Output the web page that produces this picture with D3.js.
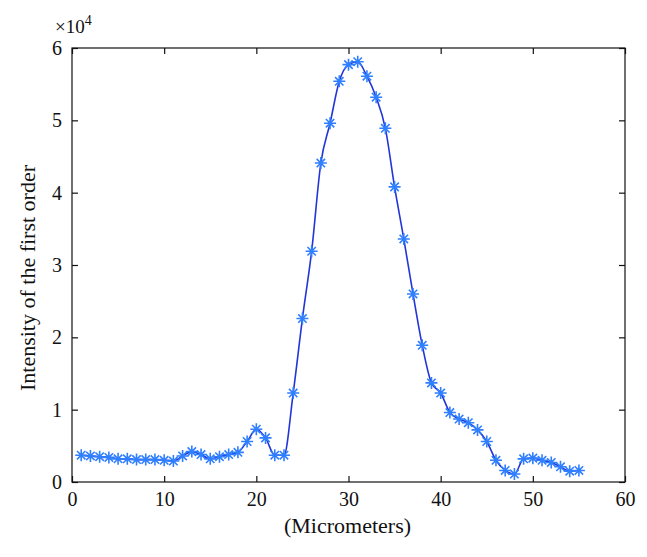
<!DOCTYPE html>
<html>
<head>
<meta charset="utf-8">
<script src="https://cdn.jsdelivr.net/npm/d3@7"></script>
<style>
  body { margin: 0; background: #fff; }
  svg text { font-family: "Liberation Serif", "DejaVu Serif", serif; fill: #111; }
</style>
</head>
<body>
<svg width="647" height="557"></svg>
<script>
// positions in micrometers
const positions = d3.range(1, 56);
// intensity of the first order (x10^4)
const intensity = [
  0.37, 0.36, 0.35, 0.34, 0.32, 0.32, 0.31, 0.31, 0.31, 0.30,
  0.29, 0.36, 0.42, 0.38, 0.32, 0.35, 0.38, 0.41, 0.56, 0.73,
  0.61, 0.37, 0.37, 1.23, 2.26, 3.19, 4.41, 4.96, 5.54, 5.77,
  5.81, 5.61, 5.32, 4.89, 4.08, 3.36, 2.60, 1.89, 1.37, 1.23,
  0.96, 0.87, 0.82, 0.72, 0.56, 0.30, 0.16, 0.11, 0.32, 0.33,
  0.30, 0.27, 0.21, 0.15, 0.16
];
const xTicks = [0, 10, 20, 30, 40, 50, 60];
const yTicks = [0, 1, 2, 3, 4, 5, 6];

const data = positions.map((p, i) => ({x: p, y: intensity[i]}));

const margin = {top: 48, right: 22, bottom: 75, left: 72};
const W = 647, H = 557;
const iw = W - margin.left - margin.right;
const ih = H - margin.top - margin.bottom;

const svg = d3.select('svg');
const g = svg.append('g').attr('transform', `translate(${margin.left},${margin.top})`);

const x = d3.scaleLinear().domain([0, 60]).range([0, iw]);
const y = d3.scaleLinear().domain([0, 6]).range([ih, 0]);

// box
g.append('rect').attr('width', iw).attr('height', ih)
  .attr('fill', 'none').attr('stroke', '#111').attr('stroke-width', 1.2);

// axes with inward ticks (MATLAB style, mirrored on all sides)
const tl = 6;
const fmt = d3.format('d');
const styleAxis = sel => {
  sel.select('.domain').remove();
  sel.selectAll('line').attr('stroke', '#111').attr('stroke-width', 1.2);
  sel.selectAll('text').style('font-family', '"Liberation Serif", serif');
};
g.append('g').attr('transform', `translate(0,${ih})`)
  .call(d3.axisBottom(x).tickValues(xTicks).tickFormat(fmt).tickSizeInner(-tl).tickPadding(10))
  .call(styleAxis).selectAll('text').attr('font-size', 20);
g.append('g')
  .call(d3.axisTop(x).tickValues(xTicks).tickFormat('').tickSizeInner(-tl))
  .call(styleAxis);
g.append('g')
  .call(d3.axisLeft(y).tickValues(yTicks).tickFormat(fmt).tickSizeInner(-tl).tickPadding(10))
  .call(styleAxis).selectAll('text').attr('font-size', 20);
g.append('g').attr('transform', `translate(${iw},0)`)
  .call(d3.axisRight(y).tickValues(yTicks).tickFormat('').tickSizeInner(-tl))
  .call(styleAxis);

// exponent label
const ex = svg.append('text').attr('x', 55).attr('y', 33).attr('font-size', 19);
ex.append('tspan').text('\u00d710');
ex.append('tspan').attr('dy', -8).attr('font-size', 14).text('4');

// axis titles
svg.append('text')
  .attr('x', margin.left + iw / 2 - 1).attr('y', 533)
  .attr('text-anchor', 'middle').attr('font-size', 22)
  .text('(Micrometers)');
svg.append('text')
  .attr('transform', `translate(35,${margin.top + ih / 2 + 13}) rotate(-90)`)
  .attr('text-anchor', 'middle').attr('font-size', 22)
  .text('Intensity of the first order');

// line
const line = d3.line().x(d => x(d.x)).y(d => y(d.y)).curve(d3.curveMonotoneX);
g.append('path').datum(data)
  .attr('d', line).attr('fill', 'none')
  .attr('stroke', '#2236d8').attr('stroke-width', 1.6);

// asterisk markers
const r = 6;
const star = `M${-r},0L${r},0M0,${-r}L0,${r}` +
  `M${-r * 0.7},${-r * 0.7}L${r * 0.7},${r * 0.7}M${-r * 0.7},${r * 0.7}L${r * 0.7},${-r * 0.7}`;
g.selectAll('.mk').data(data).enter().append('path')
  .attr('class', 'mk')
  .attr('transform', d => `translate(${x(d.x)},${y(d.y)})`)
  .attr('d', star)
  .attr('fill', 'none').attr('stroke', '#2f7fff').attr('stroke-width', 1.6);
</script>
</body>
</html>
